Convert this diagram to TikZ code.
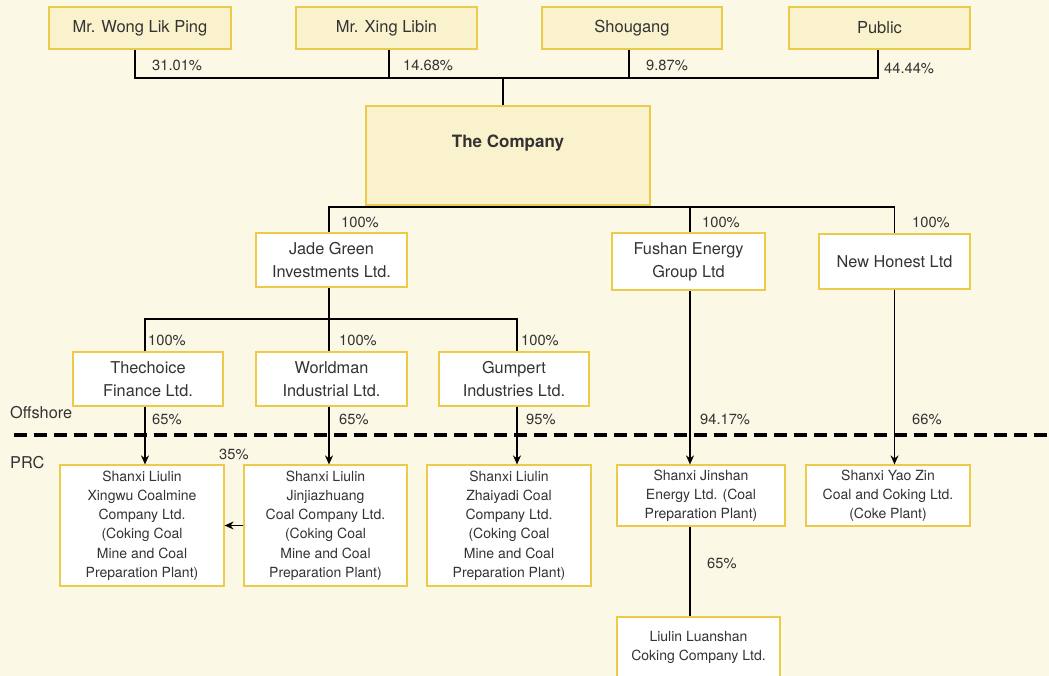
\documentclass[tikz,border=0pt]{standalone}
\usepackage{fontspec}
\setmainfont{TeX Gyre Heros}
\usetikzlibrary{arrows.meta}
\definecolor{bgc}{HTML}{FCF8E6}
\definecolor{topfill}{HTML}{FAF1CD}
\definecolor{gold}{HTML}{ECCB4A}
\definecolor{txt}{HTML}{333333}
\tikzset{
  box/.style={draw=gold, line width=1.2pt, fill=white, inner sep=0pt, align=center, text=txt},
  topbox/.style={box, fill=topfill, font=\fontsize{16.5}{20}\selectfont},
  midbox/.style={box, font=\fontsize{16.3}{23}\selectfont},
  smallbox/.style={box, font=\fontsize{14}{19.2}\selectfont},
  conn/.style={draw=black, line width=1.4pt},
  arr/.style={conn, -{Stealth[length=9pt,width=8pt]}},
  pct/.style={anchor=west, inner sep=0pt, text=txt, font=\fontsize{14.7}{17}\selectfont},
  zone/.style={anchor=west, inner sep=0pt, text=txt, font=\fontsize{16.3}{19}\selectfont}
}
\begin{document}
\begin{tikzpicture}[x=1pt,y=-1pt]
\useasboundingbox (0,0) rectangle (1049,676);
\fill[bgc] (0,0) rectangle (1049,676);
% top shareholders
\node[topbox, minimum width=182, minimum height=42] (wong) at (140,28) {Mr. Wong Lik Ping};
\node[topbox, minimum width=181, minimum height=42] (xing) at (386.5,28) {Mr. Xing Libin};
\node[topbox, minimum width=180, minimum height=42] (shougang) at (632,28) {Shougang};
\node[topbox, minimum width=181, minimum height=42] (public) at (879.5,28) {Public};
% company
\node[topbox, minimum width=284, minimum height=99, text height=12pt, text depth=27pt, font=\fontsize{17}{20}\selectfont\bfseries] (company) at (508,155.5) {The Company};
% second level
\node[midbox, minimum width=151, minimum height=54] (jade) at (331.5,260) {Jade Green\\Investments Ltd.};
\node[midbox, minimum width=153, minimum height=57] (fushan) at (688.5,261.5) {Fushan Energy\\Group Ltd};
\node[midbox, minimum width=151, minimum height=55] (honest) at (894.5,261.5) {New Honest Ltd};
% third level
\node[midbox, minimum width=150, minimum height=54] (thechoice) at (148,379) {Thechoice\\Finance Ltd.};
\node[midbox, minimum width=151, minimum height=54] (worldman) at (331.5,379) {Worldman\\Industrial Ltd.};
\node[midbox, minimum width=150, minimum height=54] (gumpert) at (514,379) {Gumpert\\Industries Ltd.};
% PRC level
\node[smallbox, minimum width=164, minimum height=121] (xingwu) at (142,525.5) {Shanxi Liulin\\Xingwu Coalmine\\Company Ltd.\\(Coking Coal\\Mine and Coal\\Preparation Plant)};
\node[smallbox, minimum width=163, minimum height=121] (jinjia) at (325.5,525.5) {Shanxi Liulin\\Jinjiazhuang\\Coal Company Ltd.\\(Coking Coal\\Mine and Coal\\Preparation Plant)};
\node[smallbox, minimum width=164, minimum height=121] (zhai) at (509,525.5) {Shanxi Liulin\\Zhaiyadi Coal\\Company Ltd.\\(Coking Coal\\Mine and Coal\\Preparation Plant)};
\node[smallbox, minimum width=168, minimum height=61] (jinshan) at (701,495.5) {Shanxi Jinshan\\Energy Ltd. (Coal\\Preparation Plant)};
\node[smallbox, minimum width=164, minimum height=61] (yaozin) at (888,495.5) {Shanxi Yao Zin\\Coal and Coking Ltd.\\(Coke Plant)};
\node[smallbox, minimum width=163, minimum height=61] (luan) at (698.5,647.5) {Liulin Luanshan\\Coking Company Ltd.};
% offshore / PRC divider
\draw[line width=4.5pt, dash pattern=on 13pt off 7pt] (14,435) -- (1049,435);
\node[zone] (offshore) at (10,413) {Offshore};
\node[zone] (prc) at (10,463) {PRC};
% connectors top
\coordinate (tb) at (503,78);
\draw[conn] ([xshift=-5pt]wong.south) |- (tb) -| ([xshift=-1.5pt]public.south);
\draw[conn] ([xshift=2.5pt]xing.south) -- ([xshift=2.5pt]xing.south |- tb);
\draw[conn] ([xshift=-3pt]shougang.south) -- ([xshift=-3pt]shougang.south |- tb);
\draw[conn] (tb) -- (tb |- company.north);
\node[pct] (p1) at (152,65) {31.01\%};
\node[pct] (p2) at (403,65) {14.68\%};
\node[pct] (p3) at (646,65) {9.87\%};
\node[pct] (p4) at (884,68) {44.44\%};
% company to second level
\coordinate (cb) at (508,207);
\draw[conn] (company.south) -- (cb);
\draw[conn] ([xshift=-2.5pt]jade.north) |- (cb) -| (honest.north);
\draw[conn] ([xshift=1.5pt]fushan.north) -- ([xshift=1.5pt]fushan.north |- cb);
\node[pct] (p5) at (341,222) {100\%};
\node[pct] (p6) at (702,222) {100\%};
\node[pct] (p7) at (912,222) {100\%};
% jade to third level
\coordinate (jb) at (329,319);
\draw[conn] ([xshift=-2.5pt]jade.south) -- ([xshift=-2.5pt]worldman.north);
\draw[conn] ([xshift=-3pt]thechoice.north) |- (jb) -| ([xshift=3pt]gumpert.north);
\node[pct] (p8) at (148,340) {100\%};
\node[pct] (p9) at (339,340) {100\%};
\node[pct] (p10) at (521,340) {100\%};
% arrows to PRC
\draw[arr] ([xshift=-3pt]thechoice.south) -- ([xshift=-3pt]thechoice.south |- xingwu.north);
\draw[arr] ([xshift=-2.5pt]worldman.south) -- ([xshift=-2.5pt]worldman.south |- jinjia.north);
\draw[arr] ([xshift=3pt]gumpert.south) -- ([xshift=3pt]gumpert.south |- zhai.north);
\draw[arr] ([xshift=1.5pt]fushan.south) -- ([xshift=1.5pt]fushan.south |- jinshan.north);
\draw[arr] (honest.south) -- (honest.south |- yaozin.north);
\node[pct] (p11) at (152,419) {65\%};
\node[pct] (p12) at (339,419) {65\%};
\node[pct] (p13) at (526,419) {95\%};
\node[pct] (p14) at (700,419) {94.17\%};
\node[pct] (p15) at (912,419) {66\%};
\draw[arr] (jinjia.west) -- (xingwu.east);
\node[pct] (p16) at (219,454) {35\%};
\draw[conn] ([xshift=1.5pt]jinshan.south -| fushan.south) -- ([xshift=1.5pt]luan.north -| fushan.south);
\node[pct] (p17) at (707,563) {65\%};
\end{tikzpicture}
\end{document}
